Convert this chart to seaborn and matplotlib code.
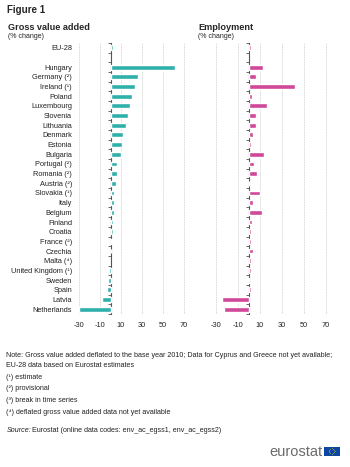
import numpy as np
import pandas as pd
import matplotlib
matplotlib.use("Agg")
import matplotlib.pyplot as plt
import seaborn as sns

sns.set_style("white")
plt.rcParams['font.family'] = ['Liberation Sans', 'DejaVu Sans']

countries = ["EU-28", " ", "Hungary", "Germany (²)", "Ireland (¹)", "Poland", "Luxembourg",
             "Slovenia", "Lithuania", "Denmark", "Estonia", "Bulgaria", "Portugal (²)",
             "Romania (²)", "Austria (²)", "Slovakia (¹)", "Italy", "Belgium", "Finland",
             "Croatia", "France (²)", "Czechia", "Malta (⁴)", "United Kingdom (¹)", "Sweden",
             "Spain", "Latvia", "Netherlands"]
gva = [2.5, np.nan, 61, 26, 23, 20, 18.5, 16.5, 15, 11.5, 10.5, 10, 6.5, 6.2, 5.6, 3.8,
       3.7, 3.2, 2.5, 2.0, 1.8, 0.8, np.nan, -1.0, -2.0, -3.0, -8.0, -30.0]
employment = [2.0, np.nan, 12.3, 6.0, 42.0, 2.7, 16.0, 6.6, 6.0, 3.3, 1.5, 14.0, 4.7, 7.0,
              0.0, 9.6, 3.6, 11.7, 2.7, 1.5, 1.5, 3.3, 1.5, 2.0, -1.0, 1.5, -24.5, -23.0]
xticks = [-30, -10, 10, 30, 50, 70]

df = pd.DataFrame({"country": countries, "gva": gva, "emp": employment})

W, H = 350, 467
fig = plt.figure(figsize=(W / 100, H / 100), dpi=100)

def rect(x0, y0, x1, y1):
    return [x0 / W, 1 - y1 / H, (x1 - x0) / W, (y1 - y0) / H]

teal = "#2FB0AB"
magenta = "#D0489A"
xmin, xmax = -30, 72

ax1 = fig.add_axes(rect(79, 42.9, 186.1, 314))
ax2 = fig.add_axes(rect(216, 42.9, 328.2, 314))

n = len(countries)
for ax, col, color in [(ax1, "gva", teal), (ax2, "emp", magenta)]:
    sns.barplot(data=df, x=col, y="country", order=countries, color=color,
                saturation=1, width=0.5, errorbar=None, ax=ax, zorder=3)
    ax.set_xlim(xmin, xmax)
    ax.set_ylim(n - 0.5, -0.5)
    ax.set_xticks(xticks)
    ax.set_xticklabels([str(t) for t in xticks], fontsize=5.3, color="#222222")
    ax.set_xlabel("")
    ax.set_ylabel("")
    for s in ax.spines.values():
        s.set_visible(False)
    ax.grid(axis="x", color="#c8c8c8", linestyle=(0, (1, 1)), linewidth=0.6, zorder=0)
    ax.grid(axis="y", visible=False)
    ax.tick_params(axis="x", length=0, pad=6)
    ax.tick_params(axis="y", length=0, pad=5)
    frac0 = (0 - xmin) / (xmax - xmin)
    sec = ax.secondary_yaxis(frac0)
    sec.set_yticks(np.arange(-0.5, n, 1.0))
    sec.set_yticklabels([])
    sec.tick_params(axis="y", length=2.5, width=0.6, color="#555555", direction="out")
    sec.spines["left"].set_color("#555555")
    sec.spines["left"].set_linewidth(0.8)

ax1.set_yticklabels(countries, fontsize=5.3, color="#222222")
ax2.set_yticklabels([])

# titles
fig.text(7 / W, 1 - 10 / H, "Figure 1", fontsize=7, fontweight="bold", va="center", ha="left")
fig.text(8 / W, 1 - 27 / H, "Gross value added", fontsize=6.6, fontweight="bold", va="center", ha="left")
fig.text(8 / W, 1 - 37 / H, "(% change)", fontsize=5, va="center", ha="left", color="#222222")
fig.text(198 / W, 1 - 27 / H, "Employment", fontsize=6.6, fontweight="bold", va="center", ha="left")
fig.text(198 / W, 1 - 37 / H, "(% change)", fontsize=5, va="center", ha="left", color="#222222")

# notes
notes = [
    (355.7, "Note: Gross value added deflated to the base year 2010; Data for Cyprus and Greece not yet available;"),
    (365.3, "EU-28 data based on Eurostat estimates"),
    (377.3, "(¹) estimate"),
    (389.0, "(²) provisional"),
    (400.3, "(³) break in time series"),
    (412.0, "(⁴) deflated gross value added data not yet available"),
]
for y, t in notes:
    fig.text(6.3 / W, 1 - y / H, t, fontsize=5.1, va="center", ha="left", color="#222222")
fig.text(6.3 / W, 1 - 430.7 / H, "Source:", fontsize=5.1, va="center", ha="left",
         style="italic", color="#222222")
fig.text(32 / W, 1 - 430.7 / H, "Eurostat (online data codes: env_ac_egss1, env_ac_egss2)",
         fontsize=5.1, va="center", ha="left", color="#222222")

# logo
fig.text(322 / W, 1 - 451.5 / H, "eurostat", fontsize=10.5, va="center", ha="right", color="#6b6b6b")
flag = fig.add_axes(rect(324, 446.5, 339.5, 455.5))
flag.set_facecolor("#0E47A1")
flag.set_xlim(-1.6, 1.6)
flag.set_ylim(-1, 1)
ang = np.linspace(0, 2 * np.pi, 13)[:-1]
flag.scatter(0.6 * np.cos(ang), 0.6 * np.sin(ang), s=0.5, color="#FFDD00", marker="*", linewidths=0)
flag.set_xticks([])
flag.set_yticks([])
for s in flag.spines.values():
    s.set_visible(False)

fig.savefig("out.png", dpi=100)
